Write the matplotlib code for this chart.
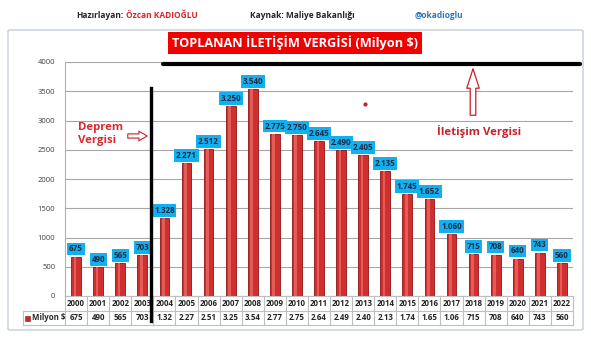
import matplotlib
matplotlib.use("Agg")
import matplotlib.pyplot as plt
from matplotlib.patches import FancyBboxPatch, FancyArrowPatch, Rectangle
from matplotlib.lines import Line2D
import matplotlib.transforms as mtransforms

years = ["2000", "2001", "2002", "2003", "2004", "2005", "2006", "2007", "2008", "2009", "2010",
         "2011", "2012", "2013", "2014", "2015", "2016", "2017", "2018", "2019", "2020", "2021", "2022"]
values = [675, 490, 565, 703, 1328, 2271, 2512, 3250, 3540, 2775, 2750,
          2645, 2490, 2405, 2135, 1745, 1652, 1060, 715, 708, 640, 743, 560]
bar_labels = ["675", "490", "565", "703", "1.328", "2.271", "2.512", "3.250", "3.540", "2.775", "2.750",
              "2.645", "2.490", "2.405", "2.135", "1.745", "1.652", "1.060", "715", "708", "640", "743", "560"]
table_labels = ["675", "490", "565", "703", "1.32", "2.27", "2.51", "3.25", "3.54", "2.77", "2.75",
                "2.64", "2.49", "2.40", "2.13", "1.74", "1.65", "1.06", "715", "708", "640", "743", "560"]
yticks = [0, 500, 1000, 1500, 2000, 2500, 3000, 3500, 4000]
series_name = "Milyon $"

W, H = 591, 338
plt.rcParams['font.family'] = ['Open Sans', 'DejaVu Sans']
fig = plt.figure(figsize=(W / 100, H / 100), dpi=100)
fig.patch.set_facecolor('white')


def fx(px):
    return px / W


def fy(py):
    return 1 - py / H


# chart border
fig.patches.append(FancyBboxPatch((fx(8), fy(330)), fx(575), 300 / H,
                                  boxstyle="round,pad=0,rounding_size=0.004",
                                  transform=fig.transFigure, fc='none', ec='#C5CED8', lw=1.0))

# axes
left, right, top, bottom = 65, 573, 62, 296
ax = fig.add_axes([fx(left), fy(bottom), (right - left) / W, (bottom - top) / H])
ax.set_xlim(-0.5, len(years) - 0.5)
ax.set_ylim(0, 4000)
ax.set_yticks(yticks)
ax.set_yticklabels([str(t) for t in yticks], fontsize=5.5, color='#404040')
ax.tick_params(axis='y', length=0, pad=7)
ax.set_xticks([])
for s in ['top', 'right', 'bottom']:
    ax.spines[s].set_visible(False)
ax.spines['left'].set_color('#B0B0B0')
ax.grid(axis='y', color='#A6A6A6', lw=0.8)
ax.set_axisbelow(True)

x = list(range(len(years)))
ax.bar(x, values, width=0.44, color='#CF2F2E', edgecolor='#8E1416', lw=0.6, zorder=2)
ax.bar([i - 0.05 for i in x], values, width=0.12, color='#E55B55', lw=0, zorder=3)

for xi, v, lab in zip(x, values, bar_labels):
    ax.annotate(lab, (xi, v), xytext=(0, 5.5), textcoords='offset points',
                ha='center', va='center', fontsize=5.8, fontweight='bold', color='#1F2A44',
                bbox=dict(boxstyle='square,pad=0.22', fc='#12B0EE', ec='none'), zorder=5)

# data table below the axes
trans = mtransforms.blended_transform_factory(ax.transData, ax.transAxes)
axh = bottom - top
r1 = -15 / axh
r2 = -29 / axh
lab_left = (23 - left) / ((right - left) / len(years)) - 0.5
gc = '#BFBFBF'
ax.add_line(Line2D([lab_left, len(years) - 0.5], [r1, r1], transform=trans, color=gc, lw=0.8, clip_on=False))
ax.add_line(Line2D([lab_left, len(years) - 0.5], [r2, r2], transform=trans, color=gc, lw=0.8, clip_on=False))
ax.add_line(Line2D([-0.5, len(years) - 0.5], [0, 0], transform=trans, color=gc, lw=0.8, clip_on=False))
ax.add_line(Line2D([lab_left, lab_left], [r1, r2], transform=trans, color=gc, lw=0.8, clip_on=False))
for i in range(len(years) + 1):
    ax.add_line(Line2D([i - 0.5, i - 0.5], [0, r2], transform=trans, color=gc, lw=0.8, clip_on=False))
for xi, yr, tl in zip(x, years, table_labels):
    ax.text(xi, r1 / 2, yr, transform=trans, ha='center', va='center', fontsize=5.7,
            fontweight='bold', color='#262626', clip_on=False)
    ax.text(xi, (r1 + r2) / 2, tl, transform=trans, ha='center', va='center', fontsize=5.7,
            fontweight='bold', color='#262626', clip_on=False)
fig.patches.append(Rectangle((fx(25), fy(321)), 5 / W, 5 / H, transform=fig.transFigure,
                             fc='#C8282A', ec='#8E1416', lw=0.4))
fig.text(fx(32), fy(318), series_name, ha='left', va='center', fontsize=5.7,
         fontweight='bold', color='#262626')

# header
fig.text(fx(123), fy(16), "Hazırlayan:", ha='right', va='center', fontsize=6, fontweight='bold', color='#262626')
fig.text(fx(126), fy(16), "Özcan KADIOĞLU", ha='left', va='center', fontsize=6, fontweight='bold', color='#D9262B')
fig.text(fx(250), fy(16), "Kaynak: Maliye Bakanlığı", ha='left', va='center', fontsize=6, fontweight='bold', color='#262626')
fig.text(fx(415), fy(16), "@okadioglu", ha='left', va='center', fontsize=6, fontweight='bold', color='#2E75B6')

# title
fig.text(fx(295), fy(43), "TOPLANAN İLETİŞİM VERGİSİ (Milyon $)", ha='center', va='center',
         fontsize=9.2, fontweight='bold', color='white',
         bbox=dict(boxstyle='square,pad=0.3', fc='#F20000', ec='none'))

# annotation lines
fig.add_artist(Line2D([fx(163), fx(580)], [fy(64), fy(64)], transform=fig.transFigure,
                      color='black', lw=3.0, solid_capstyle='round'))
fig.add_artist(Line2D([fx(151), fx(151)], [fy(88), fy(321)], transform=fig.transFigure,
                      color='black', lw=2.4))

# Deprem Vergisi
fig.text(fx(78), fy(134), "Deprem\nVergisi", ha='left', va='center', fontsize=8.2,
         fontweight='bold', color='#D42A32', linespacing=1.3)
fig.add_artist(FancyArrowPatch((fx(125), fy(136)), (fx(150), fy(136)), transform=fig.transFigure,
                               arrowstyle='simple,head_length=6,head_width=7,tail_width=3',
                               fc='white', ec='#C8202A', lw=0.8))

# İletişim Vergisi
fig.add_artist(FancyArrowPatch((fx(473), fy(118)), (fx(473), fy(66)), transform=fig.transFigure,
                               arrowstyle='simple,head_length=14,head_width=9,tail_width=4',
                               fc='white', ec='#C8202A', lw=0.9))
fig.text(fx(479), fy(131), "İletişim Vergisi", ha='center', va='center', fontsize=8.2,
         fontweight='bold', color='#C8202A')
fig.add_artist(Line2D([fx(365)], [fy(104)], transform=fig.transFigure, marker='o',
                      markersize=2, color='#C8202A', lw=0))

fig.savefig("out.png", dpi=100, facecolor='white')
